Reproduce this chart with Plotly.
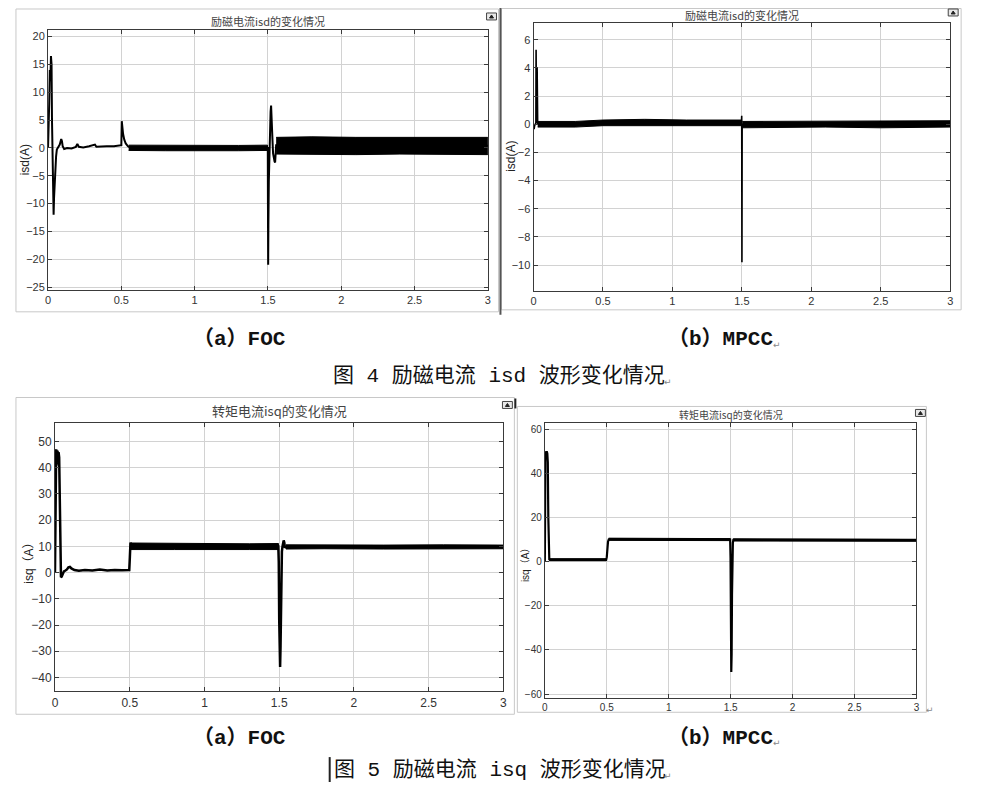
import plotly.graph_objects as go

W, H = 983, 785
OFF = 8  # the page body margin that the browser adds round the figure
FW, FH = W - OFF, H - OFF

# ---------------- data ----------------
x_ticks = [0, 0.5, 1, 1.5, 2, 2.5, 3]
x_tick_text = ["0", "0.5", "1", "1.5", "2", "2.5", "3"]

# (a) FOC  isd
foc_isd_t = [0, 0.004, 0.008, 0.012, 0.016, 0.02, 0.024, 0.027, 0.03, 0.034, 0.038, 0.041, 0.045,
             0.05, 0.055, 0.06, 0.07, 0.08, 0.09, 0.095, 0.1, 0.11, 0.13, 0.16, 0.19, 0.2, 0.21,
             0.24, 0.28, 0.32, 0.33, 0.36, 0.4, 0.45, 0.49, 0.5, 0.503, 0.507, 0.512, 0.52, 0.53,
             0.545, 0.56, 1.0, 1.496, 1.499, 1.5, 1.5015, 1.503, 1.506, 1.51, 1.514, 1.518,
             1.5215, 1.525, 1.53, 1.535, 1.54, 1.545, 1.549, 1.553, 1.556, 2.0, 3.0]
foc_isd_v = [0, 2.5, 8, 14, 12, 16.5, 15, 5, -2, -9, -12, -9, -6,
             -3.5, -1.5, -0.3, 0.1, 0.6, 1.6, 1.2, 0.3, -0.2, 0, -0.1, 0.2, 0.7, 0.2,
             0.1, 0.3, 0.6, 0.2, 0.3, 0.3, 0.3, 0.4, 0.5, 4.8, 3.5, 2.5, 1.5, 0.8,
             0.3, 0.1, 0.0, 0.1, 0, -10, -21, -14, -6, 0, 4, 6.5,
             7.6, 6, 2, -1, -2, -2.4, -2.6, -0.5, 0.5, 0.4, 0.4]
foc_isd_band1_t = [0.55, 0.8, 1.1, 1.3, 1.497]
foc_isd_band1_hi = [0.5, 0.45, 0.5, 0.45, 0.5]
foc_isd_band1_lo = [-0.45, -0.5, -0.45, -0.5, -0.45]
foc_isd_band2_t = [1.556, 1.8, 2.1, 2.4, 2.7, 3.0]
foc_isd_band2_hi = [1.9, 2.0, 1.9, 1.9, 2.0, 1.9]
foc_isd_band2_lo = [-1.1, -1.1, -1.2, -1.1, -1.1, -1.2]

# (b) MPCC isd
mpcc_isd_t = [0, 0.004, 0.008, 0.012, 0.017, 0.0185, 0.0195, 0.021, 0.025, 0.026, 0.0275, 0.03,
              0.5, 1.0, 1.497, 1.499, 1.5005, 1.502, 1.505, 2.0, 3.0]
mpcc_isd_v = [0, -0.35, -0.1, 0.05, 0.1, 5.3, 0.2, 0.1, 0.2, 4.0, 0.2, 0.05,
              0.05, 0.1, 0.1, 0.6, -9.8, -0.3, 0.0, 0.0, 0.0]
mpcc_isd_band1_t = [0.03, 0.3, 0.5, 0.8, 1.1, 1.3, 1.498]
mpcc_isd_band1_hi = [0.2, 0.2, 0.3, 0.35, 0.3, 0.3, 0.3]
mpcc_isd_band1_lo = [-0.2, -0.2, -0.1, -0.05, -0.1, -0.1, -0.1]
mpcc_isd_band2_t = [1.503, 2.0, 2.1, 2.5, 3.0]
mpcc_isd_band2_hi = [0.2, 0.2, 0.2, 0.2, 0.25]
mpcc_isd_band2_lo = [-0.25, -0.2, -0.2, -0.25, -0.2]

# (a) FOC  isq
foc_isq_t = [0, 0.002, 0.004, 0.008, 0.012, 0.016, 0.02, 0.024, 0.028, 0.032, 0.036, 0.04, 0.045,
             0.05, 0.06, 0.07, 0.08, 0.09, 0.1, 0.11, 0.13, 0.16, 0.2, 0.25, 0.3, 0.35, 0.4, 0.45,
             0.497, 0.501, 0.505, 0.51, 1.0, 1.494, 1.497, 1.5, 1.503, 1.506, 1.509, 1.512, 1.515,
             1.518, 1.522, 1.526, 1.53, 1.534, 1.538, 1.545, 2.0, 3.0]
foc_isq_v = [0, 25, 46.5, 47, 45.5, 46.5, 45, 46, 44, 30, 12, -1.8, -1.5,
             -0.5, 0.5, 0.8, 1.2, 2.0, 2.2, 1.6, 1.0, 0.7, 1.0, 0.8, 1.2, 0.8, 1.0, 0.9,
             1.0, 6, 11.5, 10.5, 10, 10, 4, -18, -33, -36, -28, -10, 2,
             8, 10, 11, 12.3, 11.5, 9.5, 9.8, 9.8, 9.8]
foc_isq_band0_t = [0.003, 0.015, 0.027]
foc_isq_band0_hi = [47, 46.5, 45.5]
foc_isq_band0_lo = [38, 42, 40]
foc_isq_band1_t = [0.505, 0.8, 1.1, 1.3, 1.495]
foc_isq_band1_hi = [11.3, 11.1, 11.1, 11.0, 11.1]
foc_isq_band1_lo = [8.8, 8.8, 8.7, 8.8, 8.8]
foc_isq_band2_t = [1.545, 1.8, 2.2, 2.6, 3.0]
foc_isq_band2_hi = [10.6, 10.5, 10.5, 10.6, 10.5]
foc_isq_band2_lo = [9.0, 9.1, 9.0, 9.0, 9.1]

# (b) MPCC isq
mpcc_isq_t = [0, 0.002, 0.005, 0.01, 0.015, 0.02, 0.024, 0.028, 0.032, 0.036, 0.045, 0.1, 0.3,
              0.495, 0.5, 0.505, 0.51, 0.516, 0.53, 1.0, 1.496, 1.499, 1.502, 1.505, 1.508, 1.511,
              1.514, 1.518, 1.522, 2.0, 3.0]
mpcc_isq_v = [0, 48, 50, 49, 50, 49, 45, 20, 4, 1, 0.8, 0.8, 0.8,
              0.8, 2, 6, 9, 10, 10.2, 10, 10, 2, -35, -50, -42, -15,
              3, 8.5, 9.8, 9.8, 9.7]
mpcc_isq_band1_t = [0.035, 0.2, 0.35, 0.497]
mpcc_isq_band1_hi = [1.3, 1.2, 1.2, 1.3]
mpcc_isq_band1_lo = [0.4, 0.4, 0.4, 0.4]
mpcc_isq_band2_t = [0.515, 0.8, 1.1, 1.497]
mpcc_isq_band2_hi = [10.6, 10.5, 10.5, 10.4]
mpcc_isq_band2_lo = [9.6, 9.6, 9.6, 9.5]
mpcc_isq_band3_t = [1.52, 2.0, 2.5, 3.0]
mpcc_isq_band3_hi = [10.3, 10.2, 10.2, 10.1]
mpcc_isq_band3_lo = [9.3, 9.3, 9.2, 9.2]

# y axis ticks
foc_isd_yticks = [-25, -20, -15, -10, -5, 0, 5, 10, 15, 20]
mpcc_isd_yticks = [-10, -8, -6, -4, -2, 0, 2, 4, 6]
foc_isq_yticks = [-40, -30, -20, -10, 0, 10, 20, 30, 40, 50]
mpcc_isq_yticks = [-60, -40, -20, 0, 20, 40, 60]

# ---------------- figure ----------------
fig = go.Figure()


def px_x(v):
    return (v - OFF) / FW


def px_y(v):
    return 1 - (v - OFF) / FH


def add_line(t, v, xa, ya, width):
    fig.add_trace(go.Scatter(x=t, y=v, mode="lines", xaxis=xa, yaxis=ya,
                             line=dict(color="#000000", width=width), hoverinfo="skip",
                             showlegend=False))


def add_band(t, hi, lo, xa, ya):
    fig.add_trace(go.Scatter(x=list(t) + list(t)[::-1], y=list(hi) + list(lo)[::-1],
                             mode="lines", fill="toself", fillcolor="#000000",
                             line=dict(color="#000000", width=1), xaxis=xa, yaxis=ya,
                             hoverinfo="skip", showlegend=False))


# panel 1
add_band(foc_isd_band1_t, foc_isd_band1_hi, foc_isd_band1_lo, "x", "y")
add_band(foc_isd_band2_t, foc_isd_band2_hi, foc_isd_band2_lo, "x", "y")
add_line(foc_isd_t, foc_isd_v, "x", "y", 2)
# panel 2
add_band(mpcc_isd_band1_t, mpcc_isd_band1_hi, mpcc_isd_band1_lo, "x2", "y2")
add_band(mpcc_isd_band2_t, mpcc_isd_band2_hi, mpcc_isd_band2_lo, "x2", "y2")
add_line(mpcc_isd_t, mpcc_isd_v, "x2", "y2", 1.6)
# panel 3
add_band(foc_isq_band0_t, foc_isq_band0_hi, foc_isq_band0_lo, "x3", "y3")
add_band(foc_isq_band1_t, foc_isq_band1_hi, foc_isq_band1_lo, "x3", "y3")
add_band(foc_isq_band2_t, foc_isq_band2_hi, foc_isq_band2_lo, "x3", "y3")
add_line(foc_isq_t, foc_isq_v, "x3", "y3", 2.5)
# panel 4
add_band(mpcc_isq_band1_t, mpcc_isq_band1_hi, mpcc_isq_band1_lo, "x4", "y4")
add_band(mpcc_isq_band2_t, mpcc_isq_band2_hi, mpcc_isq_band2_lo, "x4", "y4")
add_band(mpcc_isq_band3_t, mpcc_isq_band3_hi, mpcc_isq_band3_lo, "x4", "y4")
add_line(mpcc_isq_t, mpcc_isq_v, "x4", "y4", 2.2)

AXFONT = "Liberation Sans, Arial, sans-serif"


def xaxis(left, right, anchor, fsize):
    return dict(domain=[px_x(left), px_x(right)], range=[0, 3], anchor=anchor,
                tickvals=x_ticks, ticktext=x_tick_text, showgrid=True, gridcolor="#d2d2d2",
                gridwidth=1, showline=True, linecolor="#3a3a3a", linewidth=1, mirror="ticks",
                ticks="inside", ticklen=4, tickcolor="#3a3a3a", zeroline=False,
                tickfont=dict(family=AXFONT, size=fsize, color="#333333"), fixedrange=True)


def yaxis(top, bottom, rng, tickvals, anchor, fsize):
    return dict(domain=[px_y(bottom), px_y(top)], range=rng, anchor=anchor,
                tickvals=tickvals, showgrid=True, gridcolor="#d2d2d2", gridwidth=1,
                showline=True, linecolor="#3a3a3a", linewidth=1, mirror="ticks",
                ticks="inside", ticklen=4, tickcolor="#3a3a3a", zeroline=False,
                tickfont=dict(family=AXFONT, size=fsize, color="#333333"), fixedrange=True)


fig.update_layout(
    width=FW, height=FH, margin=dict(l=0, r=0, t=0, b=0),
    paper_bgcolor="white", plot_bgcolor="white", showlegend=False,
    xaxis=xaxis(45.3, 488.3, "y", 11),
    yaxis=yaxis(30, 291, [-25.5, 21.2], foc_isd_yticks, "x", 11),
    xaxis2=xaxis(534.3, 954, "y2", 11),
    yaxis2=yaxis(22.7, 292, [-11.84, 7.22], mpcc_isd_yticks, "x2", 11),
    xaxis3=xaxis(52.3, 504, "y3", 12),
    yaxis3=yaxis(424.3, 694, [-45.3, 57.2], foc_isq_yticks, "x3", 12),
    xaxis4=xaxis(545.7, 920, "y4", 10),
    yaxis4=yaxis(424.3, 700.7, [-61.8, 62.9], mpcc_isq_yticks, "x4", 10),
)

# ---------------- decorations: frames, icons ----------------
shapes = []


def rect(x0, y0, x1, y1, color, width=1, fill=None):
    d = dict(type="rect", xref="paper", yref="paper", x0=px_x(x0), x1=px_x(x1),
             y0=px_y(y1), y1=px_y(y0), line=dict(color=color, width=width), layer="below")
    if fill:
        d["fillcolor"] = fill
    shapes.append(d)


def vline(x, y0, y1, color, width):
    shapes.append(dict(type="line", xref="paper", yref="paper", x0=px_x(x), x1=px_x(x),
                       y0=px_y(y0), y1=px_y(y1), line=dict(color=color, width=width)))


rect(13, 9, 499, 313, "#c8c8c8")
rect(502, 8.5, 965, 311, "#c8c8c8")
vline(501, 8, 316, "#555555", 2)
rect(13, 399, 515, 717, "#c8c8c8")
rect(518, 408, 930, 715, "#c8c8c8")
vline(516, 400, 410, "#222222", 2)
vline(329, 760, 785, "#222222", 2)

for (ix, iy) in [(487, 13), (952, 9), (503, 403), (919, 411)]:
    rect(ix, iy, ix + 10, iy + 7, "#444444", 1, "#e8e8e8")
    shapes.append(dict(type="path", xref="paper", yref="paper",
                       path="M {:.5f},{:.5f} L {:.5f},{:.5f} L {:.5f},{:.5f} Z".format(
                           px_x(ix + 3), px_y(iy + 5), px_x(ix + 7), px_y(iy + 5),
                           px_x(ix + 5), px_y(iy + 2)),
                       fillcolor="#222222", line=dict(color="#222222", width=1)))

fig.update_layout(shapes=shapes)

# ---------------- text ----------------
ann = []


def text(s, x, y, size, color="#333333", family="Noto Sans CJK SC", angle=0, xanchor="center",
         weight="normal"):
    ann.append(dict(text=s, xref="paper", yref="paper", x=px_x(x), y=px_y(y),
                    xanchor=xanchor, yanchor="middle", showarrow=False, textangle=angle,
                    font=dict(size=size, color=color, family=family, weight=weight)))


TFONT = "Noto Sans CJK SC"
text("励磁电流isd的变化情况", 267, 21.5, 11, "#444444", TFONT)
text("励磁电流isd的变化情况", 744, 15, 11, "#444444", TFONT)
text("转矩电流isq的变化情况", 278, 412, 13, "#444444", TFONT)
text("转矩电流isq的变化情况", 733, 416.5, 10, "#444444", TFONT)

text("isd(A)", 23, 160, 12, "#222222", AXFONT, -90)
text("isd(A)", 512, 157, 12, "#222222", AXFONT, -90)
text("isq（A）", 26, 562, 12, "#222222", "Liberation Sans, Noto Sans CJK SC", -90)
text("isq（A）", 527, 565, 10, "#222222", "Liberation Sans, Noto Sans CJK SC", -90)

CAP = "Liberation Mono, Noto Sans CJK SC"
text("（a）FOC", 238, 340, 21, "#111111", CAP, weight="bold")
text("（b）MPCC", 723, 340, 21, "#111111", CAP, weight="bold")
text("图 4 励磁电流 isd 波形变化情况", 330, 377, 21, "#111111", CAP, xanchor="left")
text("（a）FOC", 238, 741, 21, "#111111", CAP, weight="bold")
text("（b）MPCC", 723, 741, 21, "#111111", CAP, weight="bold")
text("图 5 励磁电流 isq 波形变化情况", 331, 773, 21, "#111111", CAP, xanchor="left")

for (rx, ry) in [(780, 346), (670, 383), (780, 746), (670, 779), (934, 713)]:
    text("↵", rx, ry, 9, "#888888", "DejaVu Sans")

fig.update_layout(annotations=ann)

fig.write_html("out.html")
